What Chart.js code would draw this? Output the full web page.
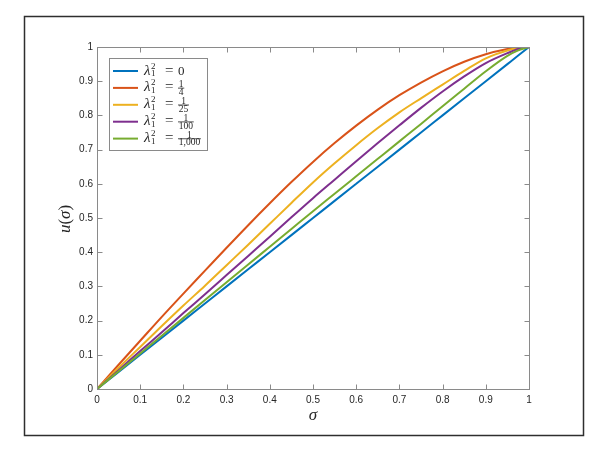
<!DOCTYPE html>
<html>
<head>
<meta charset="utf-8">
<script src="https://cdn.jsdelivr.net/npm/chart.js@4.4.1/dist/chart.umd.min.js"></script>
<style>
  html, body { margin: 0; padding: 0; background: #fff; }
</style>
</head>
<body>
<canvas id="chart" width="608" height="451"></canvas>
<script>
// sigma grid and curves
const sigma = [0, 0.05, 0.1, 0.15, 0.2, 0.25, 0.3, 0.35, 0.4, 0.45, 0.5, 0.55, 0.6, 0.65, 0.7, 0.75, 0.8, 0.85, 0.9, 0.95, 0.975, 1];
const uLam0 = [0, 0.05, 0.1, 0.15, 0.2, 0.25, 0.3, 0.35, 0.4, 0.45, 0.5, 0.55, 0.6, 0.65, 0.7, 0.75, 0.8, 0.85, 0.9, 0.95, 0.975, 1];
const uLam4 = [0, 0.071, 0.141, 0.211, 0.279, 0.346, 0.413, 0.479, 0.543, 0.605, 0.664, 0.719, 0.770, 0.817, 0.859, 0.896, 0.929, 0.957, 0.979, 0.994, 0.999, 1];
const uLam25 = [0, 0.062, 0.123, 0.184, 0.244, 0.302, 0.362, 0.422, 0.483, 0.544, 0.604, 0.660, 0.713, 0.763, 0.809, 0.850, 0.890, 0.930, 0.967, 0.990, 0.997, 1];
const uLam100 = [0, 0.055, 0.111, 0.166, 0.222, 0.277, 0.333, 0.389, 0.445, 0.502, 0.558, 0.612, 0.666, 0.719, 0.771, 0.822, 0.870, 0.914, 0.953, 0.982, 0.994, 1];
const uLam1000 = [0, 0.052, 0.104, 0.156, 0.208, 0.260, 0.312, 0.364, 0.416, 0.468, 0.520, 0.571, 0.622, 0.673, 0.724, 0.775, 0.827, 0.878, 0.929, 0.974, 0.990, 1];

const legendValues = ['0', '1/4', '1/25', '1/100', '1/1,000'];
const seriesColors = ['#0072BD', '#D95319', '#EDB120', '#7E2F8E', '#77AC30'];

const xTicks = [0, 0.1, 0.2, 0.3, 0.4, 0.5, 0.6, 0.7, 0.8, 0.9, 1];
const xTickLabels = ['0', '0.1', '0.2', '0.3', '0.4', '0.5', '0.6', '0.7', '0.8', '0.9', '1'];
const yTicks = [0, 0.1, 0.2, 0.3, 0.4, 0.5, 0.6, 0.7, 0.8, 0.9, 1];
const yTickLabels = ['0', '0.1', '0.2', '0.3', '0.4', '0.5', '0.6', '0.7', '0.8', '0.9', '1'];

const axisColor = '#8a8a8a';
const textColor = '#262626';
const serif = '"Liberation Serif", "DejaVu Serif", serif';

const series = [uLam0, uLam4, uLam25, uLam100, uLam1000];

function toPoints(values) {
    return sigma.map((s, i) => ({ x: s, y: values[i] }));
}

function drawLegend(chart) {
    const ctx = chart.ctx;
    ctx.save();
    ctx.fillStyle = '#fff';
    ctx.fillRect(109.5, 58.5, 98, 92);
    ctx.strokeStyle = axisColor;
    ctx.lineWidth = 1;
    ctx.strokeRect(109.5, 58.5, 98, 92);

    chart.data.datasets.forEach((ds, i) => {
        const cy = 71 + i * 16.9;
        ctx.strokeStyle = ds.borderColor;
        ctx.lineWidth = 2;
        ctx.beginPath();
        ctx.moveTo(113, cy);
        ctx.lineTo(138, cy);
        ctx.stroke();

        ctx.fillStyle = textColor;
        ctx.textAlign = 'left';
        ctx.textBaseline = 'alphabetic';
        ctx.font = 'italic 15px ' + serif;
        ctx.fillText('λ', 144, cy + 3.5);
        const lw = ctx.measureText('λ').width;
        ctx.font = '9px ' + serif;
        ctx.fillText('2', 144 + lw + 0.5, cy - 2.5);
        ctx.fillText('1', 144 + lw + 0.5, cy + 5);
        ctx.font = '15px ' + serif;
        ctx.fillText('=', 165, cy + 3.5);

        const parts = legendValues[i].split('/');
        if (parts.length === 1) {
            ctx.font = '13px ' + serif;
            ctx.fillText(parts[0], 178, cy + 3.5);
        } else {
            ctx.font = '9.5px ' + serif;
            const w = Math.max(ctx.measureText(parts[0]).width, ctx.measureText(parts[1]).width) + 1.5;
            ctx.textAlign = 'center';
            ctx.fillText(parts[0], 178 + w / 2, cy - 0.8);
            ctx.fillText(parts[1], 178 + w / 2, cy + 6.8);
            ctx.fillRect(178, cy - 0.2, w, 0.8);
        }
    });
    ctx.restore();
}

const figurePlugin = {
    id: 'figure',
    beforeDraw(chart) {
        const ctx = chart.ctx;
        ctx.save();
        ctx.fillStyle = '#fff';
        ctx.fillRect(0, 0, chart.width, chart.height);
        ctx.strokeStyle = '#2e2e2e';
        ctx.lineWidth = 1.5;
        ctx.strokeRect(24.5, 16.5, 559, 419);
        ctx.restore();
    },
    afterDatasetsDraw(chart) {
        const { ctx, chartArea: a, scales: { x, y } } = chart;
        ctx.save();
        ctx.strokeStyle = axisColor;
        ctx.lineWidth = 1;
        const L = Math.round(a.left) + 0.5, R = Math.round(a.right) + 0.5;
        const T = Math.round(a.top) + 0.5, B = Math.round(a.bottom) + 0.5;
        ctx.strokeRect(L, T, R - L, B - T);
        ctx.beginPath();
        xTicks.forEach(v => {
            const px = Math.round(x.getPixelForValue(v)) + 0.5;
            ctx.moveTo(px, B); ctx.lineTo(px, B - 5);
            ctx.moveTo(px, T); ctx.lineTo(px, T + 5);
        });
        yTicks.forEach(v => {
            const py = Math.round(y.getPixelForValue(v)) + 0.5;
            ctx.moveTo(L, py); ctx.lineTo(L + 5, py);
            ctx.moveTo(R, py); ctx.lineTo(R - 5, py);
        });
        ctx.stroke();

        // axis titles
        ctx.fillStyle = textColor;
        ctx.textBaseline = 'alphabetic';
        ctx.font = 'italic 17px ' + serif;
        ctx.textAlign = 'center';
        ctx.fillText('σ', (a.left + a.right) / 2, 420);

        ctx.translate(70, (a.top + a.bottom) / 2 + 1);
        ctx.rotate(-Math.PI / 2);
        const pieces = [['u', true], ['(', false], ['σ', true], [')', false]];
        let total = 0;
        pieces.forEach(p => {
            ctx.font = (p[1] ? 'italic ' : '') + '17px ' + serif;
            total += ctx.measureText(p[0]).width;
        });
        let cx = -total / 2;
        ctx.textAlign = 'left';
        pieces.forEach(p => {
            ctx.font = (p[1] ? 'italic ' : '') + '17px ' + serif;
            ctx.fillText(p[0], cx, 0);
            cx += ctx.measureText(p[0]).width;
        });
        ctx.restore();

        drawLegend(chart);
    }
};

new Chart(document.getElementById('chart'), {
    type: 'line',
    data: {
        datasets: series.map((vals, i) => ({
            label: legendValues[i],
            data: toPoints(vals),
            borderColor: seriesColors[i],
            backgroundColor: seriesColors[i],
            borderWidth: 2,
            pointRadius: 0,
            fill: false,
            cubicInterpolationMode: 'monotone',
            order: series.length - i
        }))
    },
    options: {
        responsive: false,
        devicePixelRatio: 1,
        animation: false,
        layout: {
            padding: { left: 0, right: 79, top: 47, bottom: 0 }
        },
        plugins: {
            legend: { display: false },
            tooltip: { enabled: false }
        },
        scales: {
            x: {
                type: 'linear',
                min: 0,
                max: 1,
                grid: { display: false, drawTicks: false },
                border: { display: false },
                afterBuildTicks: scale => { scale.ticks = xTicks.map(v => ({ value: v })); },
                afterFit: scale => { scale.height = 62; },
                ticks: {
                    color: textColor,
                    padding: 5,
                    maxRotation: 0,
                    autoSkip: false,
                    font: { family: '"Liberation Sans", Arial, sans-serif', size: 10 },
                    callback: (v, i) => xTickLabels[i]
                }
            },
            y: {
                type: 'linear',
                min: 0,
                max: 1,
                grid: { display: false, drawTicks: false },
                border: { display: false },
                afterBuildTicks: scale => { scale.ticks = yTicks.map(v => ({ value: v })); },
                afterFit: scale => { scale.width = 97; },
                ticks: {
                    color: textColor,
                    padding: 4,
                    autoSkip: false,
                    font: { family: '"Liberation Sans", Arial, sans-serif', size: 10 },
                    callback: (v, i) => yTickLabels[i]
                }
            }
        }
    },
    plugins: [figurePlugin]
});
</script>
</body>
</html>
